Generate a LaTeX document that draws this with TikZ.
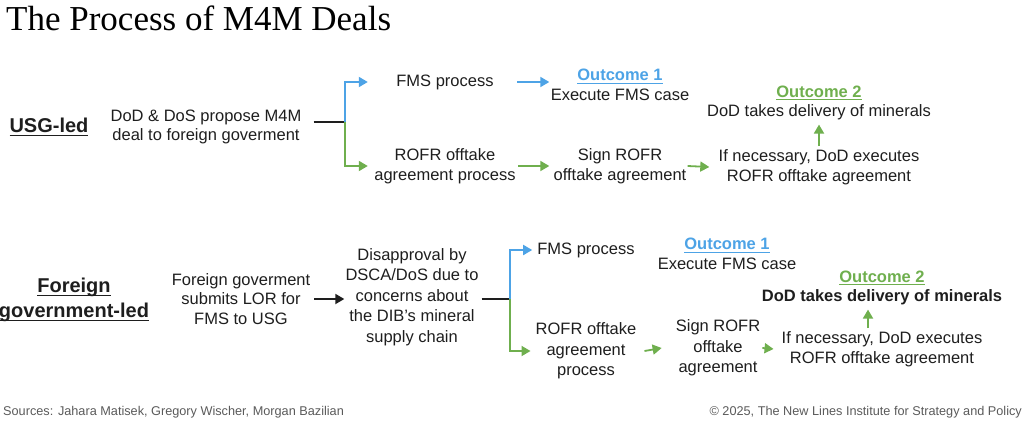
\documentclass[tikz,border=0pt]{standalone}
\usepackage{fontspec}
\setmainfont{Liberation Sans}
\newfontfamily\titlefont{Liberation Serif}
\usetikzlibrary{arrows.meta}
\definecolor{ablue}{HTML}{4DA3E6}
\definecolor{agreen}{HTML}{6FAF4E}
\definecolor{ink}{HTML}{1E1E1E}
\definecolor{foot}{HTML}{5A5A5A}
\newcommand\undl[1]{\leavevmode\setbox0=\hbox{#1}\rlap{\rule[-3.2pt]{\wd0}{1.2pt}}\box0}
\begin{document}
\begin{tikzpicture}[x=1pt,y=-1pt,
  txt/.style={font=\fontsize{16.5}{19.8}\selectfont, text=ink, align=center, inner sep=0pt},
  txtb/.style={txt, font=\fontsize{16.5}{20.5}\selectfont},
  lead/.style={font=\fontsize{20}{25}\selectfont\bfseries, text=ink, align=center, inner sep=0pt},
  conn/.style={line width=1.8pt},
  tip/.style={-{Triangle[length=9pt,width=10pt]}},
  barrow/.style={conn, ablue, tip},
  garrow/.style={conn, agreen, tip},
  karrow/.style={conn, ink, tip},
  kline/.style={conn, ink},
  footer/.style={font=\fontsize{12.7}{14}\selectfont, text=foot, inner sep=0pt}
]
\useasboundingbox (0,0) rectangle (1024,423);

% title
\node[anchor=base west, inner sep=0pt, font=\titlefont\fontsize{35}{38}\selectfont, text=black] (title) at (6,30) {The Process of M4M Deals};

% ---------------- USG-led ----------------
\node[lead] (usgled) at (49,127) {\undl{USG-led}};
\node[txt] (usgtext) at (206,127) {DoD \& DoS propose M4M\\deal to foreign goverment};
\coordinate (j1) at (345,122);
\node[txt, minimum width=146pt] (fms1) at (445,82) {FMS process};
\node[txt, minimum width=146pt] (rofr1) at (445,166) {ROFR offtake\\agreement process};
\node[txt, minimum width=139pt] (out1) at (620,85) {\textcolor{ablue}{\bfseries\undl{Outcome 1}}\\Execute FMS case};
\node[txt, minimum width=139pt] (sign1) at (620,166) {Sign ROFR\\offtake agreement};
\node[txt, minimum width=203pt] (if1) at (819,167) {If necessary, DoD executes\\ROFR offtake agreement};
\node[txt, minimum width=230pt] (out2) at (819,103) {\textcolor{agreen}{\bfseries\undl{Outcome 2}}\\DoD takes delivery of minerals};

\draw[kline] ([xshift=12pt]usgtext.east |- j1) -- (j1);
\draw[barrow] (j1) |- ([xshift=-4pt]fms1.west);
\draw[garrow] (j1) |- ([xshift=-4pt]rofr1.west);
\draw[barrow] ([xshift=-1pt]fms1.east) -- ([xshift=-1pt]out1.west |- fms1.east);
\draw[garrow] (rofr1.east) -- ([xshift=-1pt]sign1.west);
\draw[garrow] ([xshift=-2pt]sign1.east) -- ([xshift=-8pt]if1.west);
\draw[garrow] ([yshift=3pt]if1.north) -- ([yshift=-4pt]out2.south);

% ---------------- Foreign government-led ----------------
\node[lead] (fgled) at (74,300) {\undl{Foreign}\\\undl{government-led}};
\node[txt] (fgtext) at (241,299) {Foreign goverment\\submits LOR for\\FMS to USG};
\node[txtb] (disap) at (412,297) {Disapproval by\\DSCA/DoS due to\\concerns about\\the DIB’s mineral\\supply chain};
\coordinate (j2) at (510,299);
\node[txt, minimum width=96pt] (fms2) at (586,250) {FMS process};
\node[txtb, minimum width=96pt] (rofr2) at (586,351) {ROFR offtake\\agreement\\process};
\node[txt, minimum width=135pt] (out1b) at (727,254) {\textcolor{ablue}{\bfseries\undl{Outcome 1}}\\Execute FMS case};
\node[txtb, minimum width=80pt] (sign2) at (718,348) {Sign ROFR\\offtake\\agreement};
\node[txt, minimum width=200pt] (if2) at (882,349) {If necessary, DoD executes\\ROFR offtake agreement};
\node[txt, minimum width=226pt] (out2b) at (882,288) {\textcolor{agreen}{\bfseries\undl{Outcome 2}}\\\bfseries DoD takes delivery of minerals};

\draw[karrow] ([xshift=4pt]fgtext.east) -- ([xshift=-1pt]disap.west |- fgtext.east);
\draw[kline] ([xshift=3pt]disap.east |- j2) -- (j2);
\draw[barrow] (j2) |- ([xshift=-5pt]fms2.west);
\draw[garrow] (j2) |- ([xshift=-5pt]rofr2.west |- rofr2.center);
\draw[garrow] ([xshift=8pt]rofr2.east) -- ([xshift=-14pt]sign2.west);
\draw[garrow] ([xshift=2pt]sign2.east) -- ([xshift=-8pt]if2.west);
\draw[garrow] ([xshift=-14pt,yshift=3pt]if2.north) -- ([xshift=-14pt,yshift=-4pt]out2b.south);

% footer
\node[footer, anchor=base west] (src) at (3,415) {Sources: Jahara Matisek, Gregory Wischer, Morgan Bazilian};
\node[footer, anchor=base east] (copy) at (1022,415) {© 2025, The New Lines Institute for Strategy and Policy};
\end{tikzpicture}
\end{document}
